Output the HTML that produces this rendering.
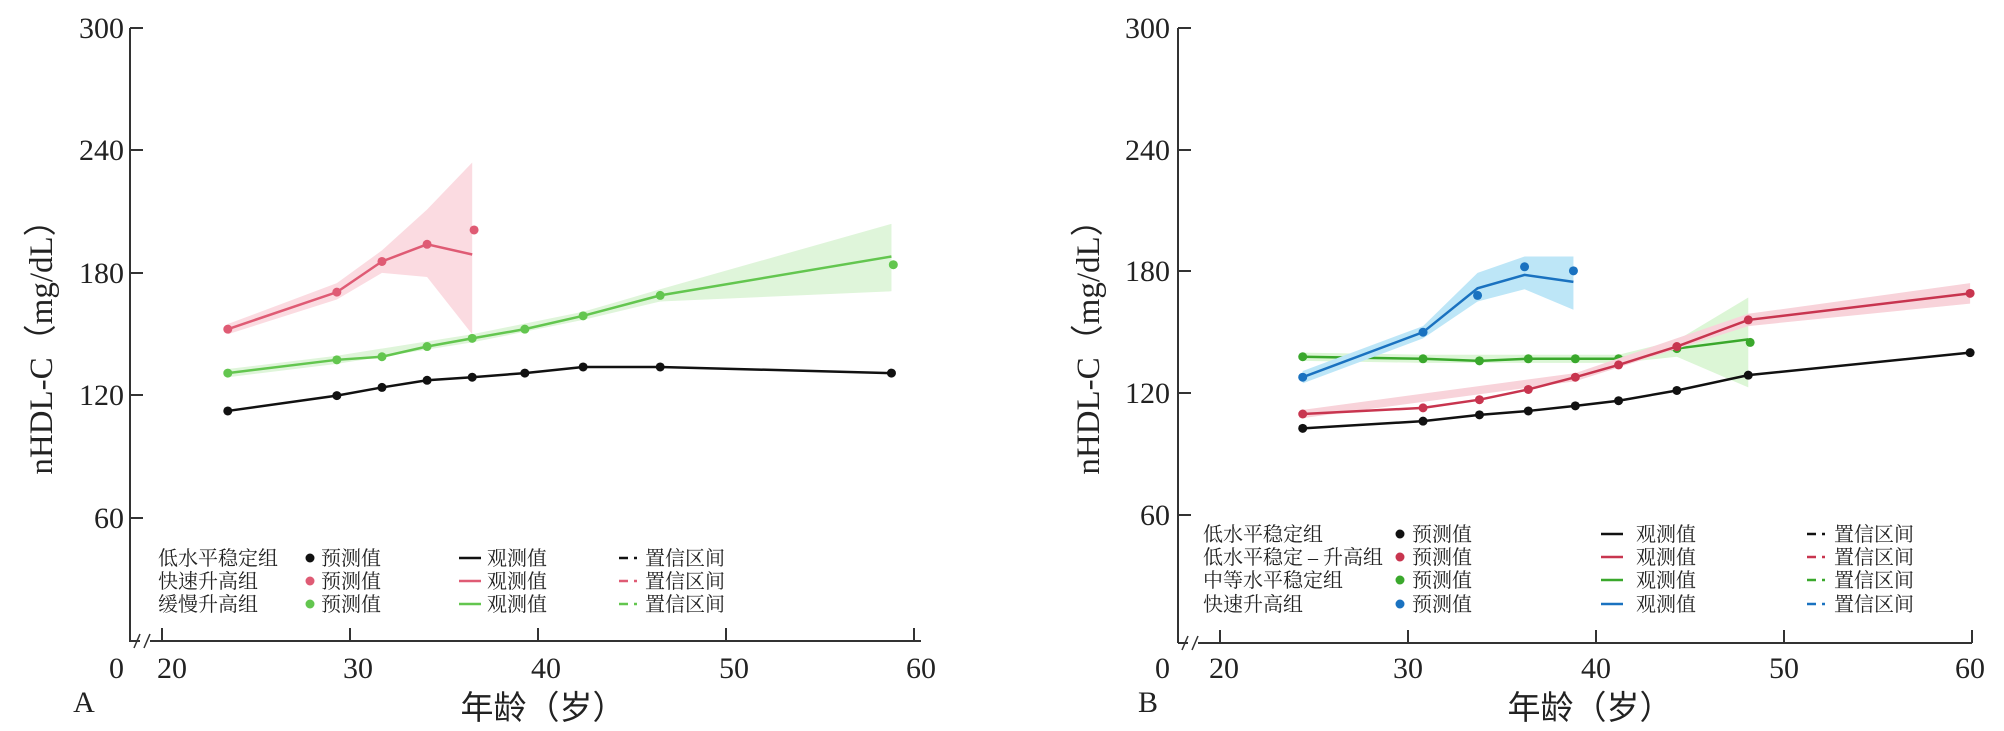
<!DOCTYPE html>
<html><head><meta charset="utf-8">
<style>
html,body{margin:0;padding:0;background:#fff;}
svg{display:block;}
text{font-family:"Liberation Serif","Noto Serif CJK SC",serif;fill:#222;}
.cj{font-family:"Liberation Serif","Noto Sans CJK SC",sans-serif;}
</style></head>
<body>
<svg id="s" width="2004" height="731" xmlns="http://www.w3.org/2000/svg">
<g stroke="#333" stroke-width="2" fill="none">
<polyline points="130,28 130,641 921,641"/>
<line x1="130" y1="28" x2="143" y2="28"/><line x1="130" y1="150" x2="143" y2="150"/><line x1="130" y1="273" x2="143" y2="273"/><line x1="130" y1="395" x2="143" y2="395"/><line x1="130" y1="518" x2="143" y2="518"/>
<line x1="162" y1="641" x2="162" y2="628"/><line x1="350" y1="641" x2="350" y2="628"/><line x1="538" y1="641" x2="538" y2="628"/><line x1="726" y1="641" x2="726" y2="628"/><line x1="914" y1="641" x2="914" y2="628"/>
<line x1="1178" y1="28" x2="1178" y2="643"/><line x1="1178" y1="643" x2="1972" y2="643"/>
<line x1="1178" y1="28" x2="1191" y2="28"/><line x1="1178" y1="150" x2="1191" y2="150"/><line x1="1178" y1="271" x2="1191" y2="271"/><line x1="1178" y1="393" x2="1191" y2="393"/><line x1="1178" y1="515" x2="1191" y2="515"/>
<line x1="1220" y1="643" x2="1220" y2="630"/><line x1="1408" y1="643" x2="1408" y2="630"/><line x1="1596" y1="643" x2="1596" y2="630"/><line x1="1784" y1="643" x2="1784" y2="630"/><line x1="1972" y1="643" x2="1972" y2="630"/>
</g>
<g stroke="#fff" stroke-width="6"><line x1="140" y1="641" x2="150" y2="641"/><line x1="1188" y1="643" x2="1198" y2="643"/></g>
<g stroke="#333" stroke-width="1.5"><line x1="134" y1="648" x2="140" y2="634"/><line x1="144" y1="648" x2="150" y2="634"/><line x1="1182" y1="650" x2="1188" y2="636"/><line x1="1192" y1="650" x2="1198" y2="636"/></g>
<g font-size="30" text-anchor="end">
<text x="124" y="38">300</text><text x="124" y="160">240</text><text x="124" y="283">180</text><text x="124" y="405">120</text><text x="124" y="528">60</text><text x="124" y="678">0</text>
<text x="1170" y="38">300</text><text x="1170" y="160">240</text><text x="1170" y="281">180</text><text x="1170" y="403">120</text><text x="1170" y="525">60</text><text x="1170" y="678">0</text>
</g>
<g font-size="30" text-anchor="middle">
<text x="172" y="678">20</text><text x="358" y="678">30</text><text x="546" y="678">40</text><text x="734" y="678">50</text><text x="921" y="678">60</text>
<text x="1224" y="678">20</text><text x="1408" y="678">30</text><text x="1596" y="678">40</text><text x="1784" y="678">50</text><text x="1970" y="678">60</text>
<text x="84" y="712">A</text><text x="1148" y="712">B</text>
<text class="cj" x="543" y="719" font-size="33">年龄（岁）</text>
<text class="cj" x="1590" y="719" font-size="33">年龄（岁）</text>
<text class="cj" font-size="33" transform="translate(52,339) rotate(-90)">nHDL-C（mg/dL）</text>
<text class="cj" font-size="33" transform="translate(1099,339) rotate(-90)">nHDL-C（mg/dL）</text>
</g>
<g id="data"></g>
<g id="leg" font-size="20" class="cj"></g>
</svg>
<script>
var NS="http://www.w3.org/2000/svg",D=document.getElementById("data"),L=document.getElementById("leg");
function el(p,t,a,txt){var e=document.createElementNS(NS,t);for(var k in a)e.setAttribute(k,a[k]);if(txt)e.textContent=txt;p.appendChild(e);return e;}
function Y(v){return 641-v*2.045;}
function XA(a){return 162+(a-20)*18.8;}function XB(a){return 1220+(a-20)*18.8;}
function series(X,pts,col,dots,band,bcol){
 if(band){var up=band.map(function(b){return X(b[0])+","+Y(b[1]);}),lo=band.slice().reverse().map(function(b){return X(b[0])+","+Y(b[2]);});
 el(D,"polygon",{points:up.concat(lo).join(" "),fill:bcol,stroke:"none"});}
 el(D,"polyline",{points:pts.map(function(p){return X(p[0])+","+Y(p[1]);}).join(" "),fill:"none",stroke:col,"stroke-width":2.5});
 dots.forEach(function(p){el(D,"circle",{cx:X(p[0]),cy:Y(p[1]),r:4.5,fill:col});});
}
var gA=[[23.5,131],[29.3,137.5],[31.7,139],[34.1,144],[36.5,148],[39.3,152.5],[42.4,159],[46.5,169],[58.8,188]];
series(XA,gA,"#63c64f",gA.slice(0,8).concat([[58.9,184]]),[[23.5,133,129],[29.3,139.5,135.5],[36.5,150,146],[42.4,161,157],[46.5,172,166],[58.8,204,171]],"#dff5da");
var pA=[[23.5,152.5],[29.3,170.6],[31.7,185.6],[34.1,194],[36.5,189]];
series(XA,pA,"#df5b74",[[23.5,152.5],[29.3,170.6],[31.7,185.6],[34.1,194],[36.6,201]],[[23.5,155,150],[29.3,175,167],[31.7,191,180],[34.1,211,178],[36.5,234,150]],"#fbdbe1");
var kA=[[23.5,112.5],[29.3,120],[31.7,124],[34.1,127.5],[36.5,129],[39.3,131],[42.4,134],[46.5,134],[58.8,131]];
series(XA,kA,"#111",kA,null);
var gB=[[24.4,139],[30.8,138],[33.8,137],[36.4,138],[38.9,138],[41.2,138],[44.3,143],[48.1,147.5]];
series(XB,gB,"#3aa82c",gB.slice(0,7).concat([[48.2,146]]),[[24.4,141,137],[30.8,140,136],[41.2,140,136],[44.3,147,139],[48.1,168,124]],"#dcf6d6");
var rB=[[24.4,111],[30.8,114],[33.8,118],[36.4,123],[38.9,129],[41.2,135],[44.3,144],[48.1,157],[59.9,170]];
series(XB,rB,"#c8354f",rB,[[24.4,113,109],[38.9,131,127],[48.1,160,154],[59.9,175,165]],"#f8d3da");
var bB=[[24.4,129],[30.8,151],[33.7,172.5],[36.2,179],[38.8,175.6]];
series(XB,bB,"#1a72c0",[[24.4,129],[30.8,151],[33.7,169],[36.2,183],[38.8,181]],[[24.4,132,126],[30.8,154,148],[33.7,180,166],[36.2,188,172],[38.8,188,162]],"#bde6f7");
var kB=[[24.4,104],[30.8,107.5],[33.8,110.6],[36.4,112.5],[38.9,115],[41.2,117.5],[44.3,122.5],[48.1,130],[59.9,141]];
series(XB,kB,"#111",kB,null);
function leg(x0,xd,xp,xl,xo,xdash,xc,y,name,col){
 el(L,"text",{x:x0,y:y+7},name);
 el(L,"circle",{cx:xd,cy:y,r:4.5,fill:col});
 el(L,"text",{x:xp,y:y+7},"预测值");
 el(L,"line",{x1:xl,y1:y,x2:xl+22,y2:y,stroke:col,"stroke-width":2.5});
 el(L,"text",{x:xo,y:y+7},"观测值");
 el(L,"line",{x1:xdash,y1:y,x2:xdash+9,y2:y,stroke:col,"stroke-width":2.5});
 el(L,"line",{x1:xdash+15,y1:y,x2:xdash+18,y2:y,stroke:col,"stroke-width":2.5});
 el(L,"text",{x:xc,y:y+7},"置信区间");
}
leg(158,310,321,459,487,619,645,558,"低水平稳定组","#111");
leg(158,310,321,459,487,619,645,581,"快速升高组","#df5b74");
leg(158,310,321,459,487,619,645,604,"缓慢升高组","#63c64f");
leg(1203,1400,1412,1601,1636,1807,1834,534,"低水平稳定组","#111");
leg(1203,1400,1412,1601,1636,1807,1834,557,"低水平稳定 – 升高组","#c8354f");
leg(1203,1400,1412,1601,1636,1807,1834,580,"中等水平稳定组","#3aa82c");
leg(1203,1400,1412,1601,1636,1807,1834,604,"快速升高组","#1a72c0");
</script>
</body></html>
